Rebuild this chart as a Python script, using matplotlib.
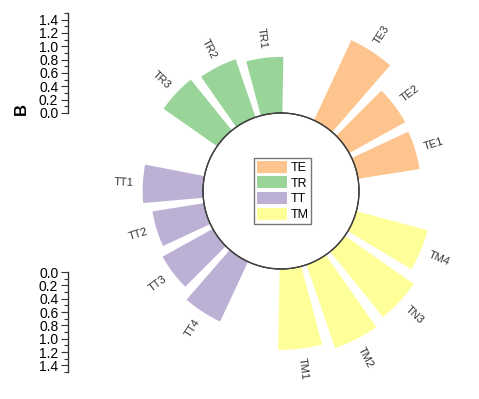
import numpy as np
import matplotlib
matplotlib.use("Agg")
import matplotlib.pyplot as plt
from matplotlib.patches import Patch
from matplotlib.ticker import MultipleLocator

plt.rcParams['font.family'] = ['Liberation Sans', 'DejaVu Sans']

# ---- data ----
groups = ['TE', 'TR', 'TT', 'TM']
group_colors = ['#fdc48e', '#99d499', '#bdb0d5', '#ffff99']
te_labels = ['TE1', 'TE2', 'TE3']
te_values = [0.945, 0.97, 1.34]
tr_labels = ['TR1', 'TR2', 'TR3']
tr_values = [0.85, 0.93, 0.99]
tt_labels = ['TT1', 'TT2', 'TT3', 'TT4']
tt_values = [0.915, 0.79, 0.87, 1.00]
tm_labels = ['TM1', 'TM2', 'TN3', 'TM4']
tm_values = [1.225, 1.335, 1.275, 1.12]
axis_ticks = [0.0, 0.2, 0.4, 0.6, 0.8, 1.0, 1.2, 1.4]
axis_label = 'B'

group_labels = [te_labels, tr_labels, tt_labels, tm_labels]
group_values = [te_values, tr_values, tt_values, tm_values]

# ---- layout ----
W, H = 479, 399
fig = plt.figure(figsize=(W / 100, H / 100), dpi=100)

cx, cy = 281, 191          # centre in px (from top)
px_per_unit = 66.0
inner_px = 78.0
rmax = 1.5
inner_u = inner_px / px_per_unit
R = (rmax + inner_u) * px_per_unit
ax = fig.add_axes([(cx - R) / W, (H - cy - R) / H, 2 * R / W, 2 * R / H],
                  projection='polar')
ax.set_theta_zero_location('N')
ax.set_theta_direction(-1)
ax.set_ylim(0, rmax)
ax.set_rorigin(-inner_u)
ax.grid(False)
ax.set_xticks([])
ax.set_yticks([])
for s in ax.spines.values():
    s.set_visible(False)
ax.patch.set_visible(False)

slot_deg = 20.0
start_deg = 73.0
bar_deg = 16.0
label_off = 0.14

slot = 0
for gi, (labs, vals) in enumerate(zip(group_labels, group_values)):
    for lab, v in zip(labs, vals):
        a = (start_deg - slot * slot_deg) % 360
        th = np.deg2rad(a)
        ax.bar(th, v, width=np.deg2rad(bar_deg), bottom=0,
               color=group_colors[gi], edgecolor='none', zorder=2)
        if 0 <= a < 180:
            rot = 90 - a
            ha = 'left'
        else:
            rot = 270 - a
            ha = 'right'
        ax.text(th, v + label_off, lab, rotation=rot, rotation_mode='anchor',
                ha=ha, va='center', fontsize=8, color='#333333', clip_on=False)
        slot += 1
    slot += 1  # empty slot between groups

tt = np.linspace(0, 2 * np.pi, 400)
ax.plot(tt, np.zeros_like(tt), color='#444444', lw=1.0, clip_on=False, zorder=3)

# legend
handles = [Patch(facecolor=c, edgecolor='none') for c in group_colors]
leg = fig.legend(handles, groups, loc='upper left',
                 bbox_to_anchor=(254 / W, 1 - 158 / H), fontsize=9,
                 frameon=True, fancybox=False, handlelength=2.4,
                 handleheight=1.12, labelspacing=0.2, handletextpad=0.3,
                 borderpad=0.2, borderaxespad=0)
leg.get_frame().set_edgecolor('#555555')
leg.get_frame().set_linewidth(1.0)

# left scale axes
def scale_axis(top_px, invert):
    a = fig.add_axes([68 / W, (H - top_px - 100) / H, 0.001, 100 / H])
    a.set_ylim(0, rmax)
    if invert:
        a.invert_yaxis()
    for k in ['right', 'top', 'bottom']:
        a.spines[k].set_visible(False)
    a.spines['left'].set_linewidth(1.0)
    a.spines['left'].set_color('#333333')
    a.set_xticks([])
    a.set_yticks(axis_ticks)
    a.set_yticklabels([f'{t:.1f}' for t in axis_ticks])
    a.yaxis.set_minor_locator(MultipleLocator(0.1))
    a.tick_params(axis='y', which='major', length=5, width=0.8,
                  labelsize=10, pad=2, color='#333333')
    a.tick_params(axis='y', which='minor', length=3, width=0.8,
                  color='#333333')
    a.patch.set_visible(False)
    return a

scale_axis(13, False)
scale_axis(272, True)

fig.text(21 / W, 1 - 109 / H, axis_label, rotation=90, ha='center',
         va='center', fontsize=12, fontweight='bold')

fig.savefig('out.png', dpi=100)
